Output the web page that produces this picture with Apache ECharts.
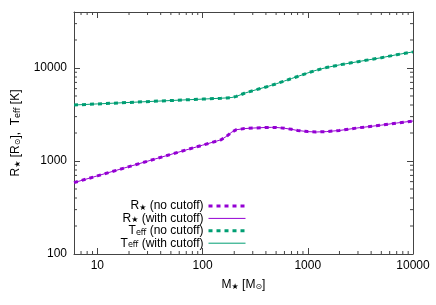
<!DOCTYPE html>
<html>
<head>
<meta charset="utf-8">
<script src="https://cdn.jsdelivr.net/npm/echarts@6/dist/echarts.min.js"></script>
<style>html,body{margin:0;padding:0;background:#fff;}#c{width:436px;height:305px;}</style>
</head>
<body>
<div id="c"></div>
<script>
// Stellar mass [Msun]
const masses = [6, 10, 20, 50, 100, 150, 170, 190, 210, 250, 300, 400, 450, 500, 600, 700, 800, 1000, 1200, 1500, 2000, 3000, 5000, 7000, 10000];
// Stellar radius [Rsun]
const rStar = [585, 692, 870, 1178, 1480, 1690, 1850, 2050, 2170, 2230, 2260, 2295, 2300, 2295, 2250, 2190, 2130, 2070, 2050, 2070, 2130, 2270, 2430, 2560, 2690];
// Effective temperature [K]
const tEff = [4000, 4110, 4260, 4470, 4630, 4730, 4770, 4820, 4950, 5350, 5700, 6250, 6500, 6750, 7250, 7700, 8100, 8850, 9450, 10100, 10800, 11700, 12900, 13900, 14900];
// Axis ranges / ticks
const xRange = [6, 10000];
const yRange = [100, 40000];
const xMinor = [7, 8, 9, 20, 30, 40, 50, 60, 70, 80, 90, 200, 300, 400, 500, 600, 700, 800, 900, 2000, 3000, 4000, 5000, 6000, 7000, 8000, 9000];
const yMinor = [200, 300, 400, 500, 600, 700, 800, 900, 2000, 3000, 4000, 5000, 6000, 7000, 8000, 9000, 20000, 30000];

const PURPLE = '#9400D3';
const GREEN = '#009E73';
const BORDER = '#444';
const FONT = 'Liberation Sans';

const rich = {
  b: {fontSize: 12, lineHeight: 12, verticalAlign: 'top', fontFamily: FONT, color: '#000'},
  s: {fontSize: 8, lineHeight: 8, padding: [6, 0, 0, 0], verticalAlign: 'bottom', fontFamily: 'DejaVu Sans', color: '#000'}
};

const legendNames = ['R★ (no cutoff)', 'R★ (with cutoff)', 'Teff (no cutoff)', 'Teff (with cutoff)'];
function legendFmt(n) {
  if (n.indexOf('R★') === 0) return '{b|R}{s|★}{b|' + n.slice(2) + '}';
  return '{b|T}{s|eff}{b|' + n.slice(4) + '}';
}

const pair = arr => masses.map((m, i) => [m, arr[i]]);

function lineSeries(name, data, color, dashed) {
  return {
    name, type: 'line', data, symbol: 'none', smooth: false,
    xAxisIndex: 0, yAxisIndex: 0,
    lineStyle: {color, width: dashed ? 3 : 1, type: dashed ? [4, 4] : 'solid', cap: 'butt'},
    itemStyle: {color},
    emphasis: {disabled: true}, silent: true, z: dashed ? 2 : 3
  };
}

function minorSeries(values, isX) {
  return {
    type: 'custom', xAxisIndex: 0, yAxisIndex: 0, silent: true, z: 1,
    data: values.map(v => isX ? [v, 1000] : [100, v]),
    renderItem: function (params, api) {
      const cs = params.coordSys;
      const p = api.coord([api.value(0), api.value(1)]);
      const st = {stroke: BORDER, lineWidth: 1};
      if (isX) {
        return {type: 'group', children: [
          {type: 'line', shape: {x1: p[0], y1: cs.y + cs.height, x2: p[0], y2: cs.y + cs.height - 3}, style: st},
          {type: 'line', shape: {x1: p[0], y1: cs.y, x2: p[0], y2: cs.y + 3}, style: st}
        ]};
      }
      return {type: 'group', children: [
        {type: 'line', shape: {x1: cs.x, y1: p[1], x2: cs.x + 3, y2: p[1]}, style: st},
        {type: 'line', shape: {x1: cs.x + cs.width, y1: p[1], x2: cs.x + cs.width - 3, y2: p[1]}, style: st}
      ]};
    }
  };
}

const axisLineStyle = {show: true, lineStyle: {color: BORDER, width: 1}};
const tickStyle = {show: true, inside: true, length: 6, lineStyle: {color: BORDER, width: 1}};
const labelFmt = v => String(Math.round(v));

const option = {
  animation: false,
  backgroundColor: '#fff',
  grid: {left: 74, right: 23, top: 12, bottom: 51},
  xAxis: [
    {type: 'log', logBase: 10, min: xRange[0], max: xRange[1], position: 'bottom',
     axisLine: axisLineStyle, axisTick: tickStyle, splitLine: {show: false},
     axisLabel: {show: true, margin: 6, fontSize: 12, fontFamily: FONT, color: '#000', formatter: labelFmt, showMinLabel: false},
     name: '{b|M}{s|★}{b| [M}{s|⊙}{b|]}', nameLocation: 'middle', nameGap: 22,
     nameTextStyle: {rich}},
    {type: 'log', logBase: 10, min: xRange[0], max: xRange[1], position: 'top',
     axisLine: axisLineStyle, axisTick: tickStyle, splitLine: {show: false}, axisLabel: {show: false}}
  ],
  yAxis: [
    {type: 'log', logBase: 10, min: yRange[0], max: yRange[1], position: 'left',
     axisLine: axisLineStyle, axisTick: tickStyle, splitLine: {show: false},
     axisLabel: {show: true, margin: 7, fontSize: 12, fontFamily: FONT, color: '#000', formatter: labelFmt, showMaxLabel: false},
     name: '{b|R}{s|★}{b| [R}{s|⊙}{b|],  T}{s|eff}{b| [K]}', nameLocation: 'middle', nameGap: 52, nameRotate: 90,
     nameTextStyle: {rich}},
    {type: 'log', logBase: 10, min: yRange[0], max: yRange[1], position: 'right',
     axisLine: axisLineStyle, axisTick: tickStyle, splitLine: {show: false}, axisLabel: {show: false}}
  ],
  legend: {
    data: legendNames, orient: 'vertical', align: 'right', right: 189, top: 198,
    itemWidth: 37, itemHeight: 6, itemGap: -1.6, padding: 0,
    selectedMode: false,
    itemStyle: {opacity: 0},
    lineStyle: {width: 'inherit', type: 'inherit', opacity: 1},
    formatter: legendFmt,
    textStyle: {rich, fontSize: 12, fontFamily: FONT, color: '#000'}
  },
  series: [
    minorSeries(xMinor, true),
    minorSeries(yMinor, false),
    lineSeries(legendNames[0], pair(rStar), PURPLE, true),
    lineSeries(legendNames[1], pair(rStar), PURPLE, false),
    lineSeries(legendNames[2], pair(tEff), GREEN, true),
    lineSeries(legendNames[3], pair(tEff), GREEN, false)
  ]
};

const chart = echarts.init(document.getElementById('c'), null, {renderer: 'canvas'});
chart.setOption(option);
</script>
</body>
</html>
